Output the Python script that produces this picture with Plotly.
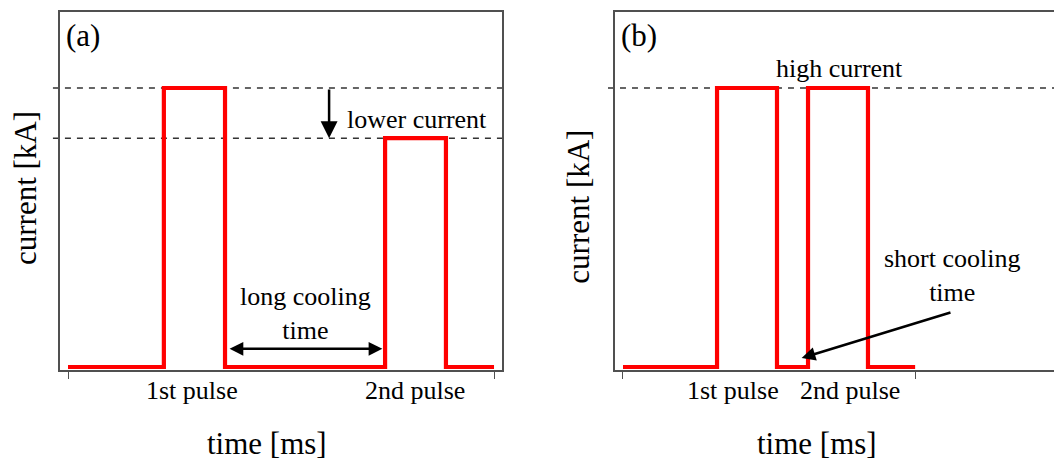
import plotly.graph_objects as go

# Pulse sequences (time in ms, arbitrary current units)
t_a = [0, 3.15, 3.15, 5.16, 5.16, 10.42, 10.42, 12.42, 12.42, 14.0]
i_a = [0, 0, 10, 10, 0, 0, 8.2, 8.2, 0, 0]

t_b = [0, 3.09, 3.09, 5.06, 5.06, 6.08, 6.08, 8.05, 8.05, 9.6]
i_b = [0, 0, 10, 10, 0, 0, 10, 10, 0, 0]

high_level = 10.0
lower_level = 8.2

pulse_labels = ["1st pulse", "2nd pulse"]
label_pos_a = [4.06, 11.39]
label_pos_b = [3.61, 7.46]

FONT = "Liberation Serif, Times New Roman, serif"
BOX = "#505050"
RED = "#ff0000"

fig = go.Figure()
fig.add_trace(go.Scatter(x=t_a, y=i_a, mode="lines", xaxis="x", yaxis="y",
                         line=dict(color=RED, width=4.2), hoverinfo="skip"))
fig.add_trace(go.Scatter(x=t_b, y=i_b, mode="lines", xaxis="x2", yaxis="y2",
                         line=dict(color=RED, width=4.2), hoverinfo="skip"))

y_dom = [0.19565, 0.97391]
y_rng = [-0.1075, 12.724]
common_x = dict(showgrid=False, zeroline=False, showline=True, linecolor=BOX,
                linewidth=1.6, mirror=True, ticks="outside", ticklen=7,
                tickcolor=BOX, tickwidth=1.4, showticklabels=False)
common_y = dict(showgrid=False, zeroline=False, showline=True, linecolor=BOX,
                linewidth=1.6, ticks="", showticklabels=False, range=y_rng,
                domain=y_dom)

fig.update_layout(
    width=1054, height=460, margin=dict(l=0, r=0, t=0, b=0),
    paper_bgcolor="white", plot_bgcolor="white", showlegend=False,
    font=dict(family=FONT, color="black"),
    xaxis=dict(common_x, domain=[0.05693, 0.47628], range=[-0.263, 14.262],
               tickvals=[t_a[0], t_a[-1]], anchor="y"),
    yaxis=dict(common_y, mirror=True, anchor="x"),
    xaxis2=dict(common_x, domain=[0.58349, 1.0], range=[-0.263, 14.163],
                tickvals=[t_b[0], t_b[-1]], anchor="y2"),
    yaxis2=dict(common_y, mirror=False, anchor="x2"),
)

# Dashed reference levels
dash = dict(color="#333333", width=1.4, dash="6px,6px")
for lvl in (high_level, lower_level):
    fig.add_shape(type="line", xref="x domain", yref="y", x0=-0.016, x1=1.0,
                  y0=lvl, y1=lvl, line=dash, layer="below")
fig.add_shape(type="line", xref="x2 domain", yref="y2", x0=-0.016, x1=1.0,
              y0=high_level, y1=high_level, line=dash, layer="below")

ann = []
txt = dict(size=26, family=FONT, color="black")
big = dict(size=31, family=FONT, color="black")
mid = dict(xanchor="center", yanchor="middle", showarrow=False)

# Panel letters
ann.append(dict(text="(a)", xref="x domain", yref="y domain", x=0.009, y=0.933,
                xanchor="left", yanchor="middle", showarrow=False, font=big))
ann.append(dict(text="(b)", xref="x2 domain", yref="y2 domain", x=0.009, y=0.933,
                xanchor="left", yanchor="middle", showarrow=False, font=big))

# Axis titles
ann.append(dict(mid, text="current [kA]", xref="paper", yref="paper", x=0.0237,
                y=0.5913, textangle=-90, font=big))
ann.append(dict(mid, text="current [kA]", xref="paper", yref="paper", x=0.5493,
                y=0.5507, textangle=-90, font=big))
ann.append(dict(mid, text="time [ms]", xref="x", yref="paper", x=6.53, y=0.0348,
                font=big))
ann.append(dict(mid, text="time [ms]", xref="x2", yref="paper", x=6.37, y=0.0348,
                font=big))

# Pulse labels under each axis
for lab, xa in zip(pulse_labels, label_pos_a):
    ann.append(dict(mid, text=lab, xref="x", yref="paper", x=xa, y=0.152, font=txt))
for lab, xb in zip(pulse_labels, label_pos_b):
    ann.append(dict(mid, text=lab, xref="x2", yref="paper", x=xb, y=0.152, font=txt))

# Panel (a) notes
ann.append(dict(mid, text="lower current", xref="x", yref="y", x=11.47, y=8.88,
                font=txt))
ann.append(dict(mid, text="long cooling<br>time", xref="x", yref="y", x=7.79, y=1.93,
                font=txt))
arrow_x = 8.58
ann.append(dict(text="", xref="x", yref="y", axref="x", ayref="y",
                x=arrow_x, y=lower_level, ax=arrow_x, ay=high_level,
                showarrow=True, arrowhead=2, arrowsize=1.35, arrowwidth=2.5,
                arrowcolor="black"))
ann.append(dict(text="", xref="x", yref="y", axref="x", ayref="y",
                x=t_a[5] - 0.09, y=0.65, ax=t_a[3] + 0.1, ay=0.65,
                showarrow=True, arrowside="end+start", arrowhead=2, startarrowhead=2,
                arrowsize=1.1, startarrowsize=1.1, arrowwidth=2.5,
                arrowcolor="black"))

# Panel (b) notes
ann.append(dict(mid, text="high current", xref="x2", yref="y2", x=7.10, y=10.7,
                font=txt))
ann.append(dict(mid, text="short cooling<br>time", xref="x2", yref="y2", x=10.83,
                y=3.28, font=txt))
ann.append(dict(text="", xref="x2", yref="y2", axref="x2", ayref="y2",
                x=5.87, y=0.32, ax=10.81, ay=1.97,
                showarrow=True, arrowhead=2, arrowsize=1.1, arrowwidth=2.5,
                arrowcolor="black"))

fig.update_layout(annotations=ann)
fig.write_html("out.html")
